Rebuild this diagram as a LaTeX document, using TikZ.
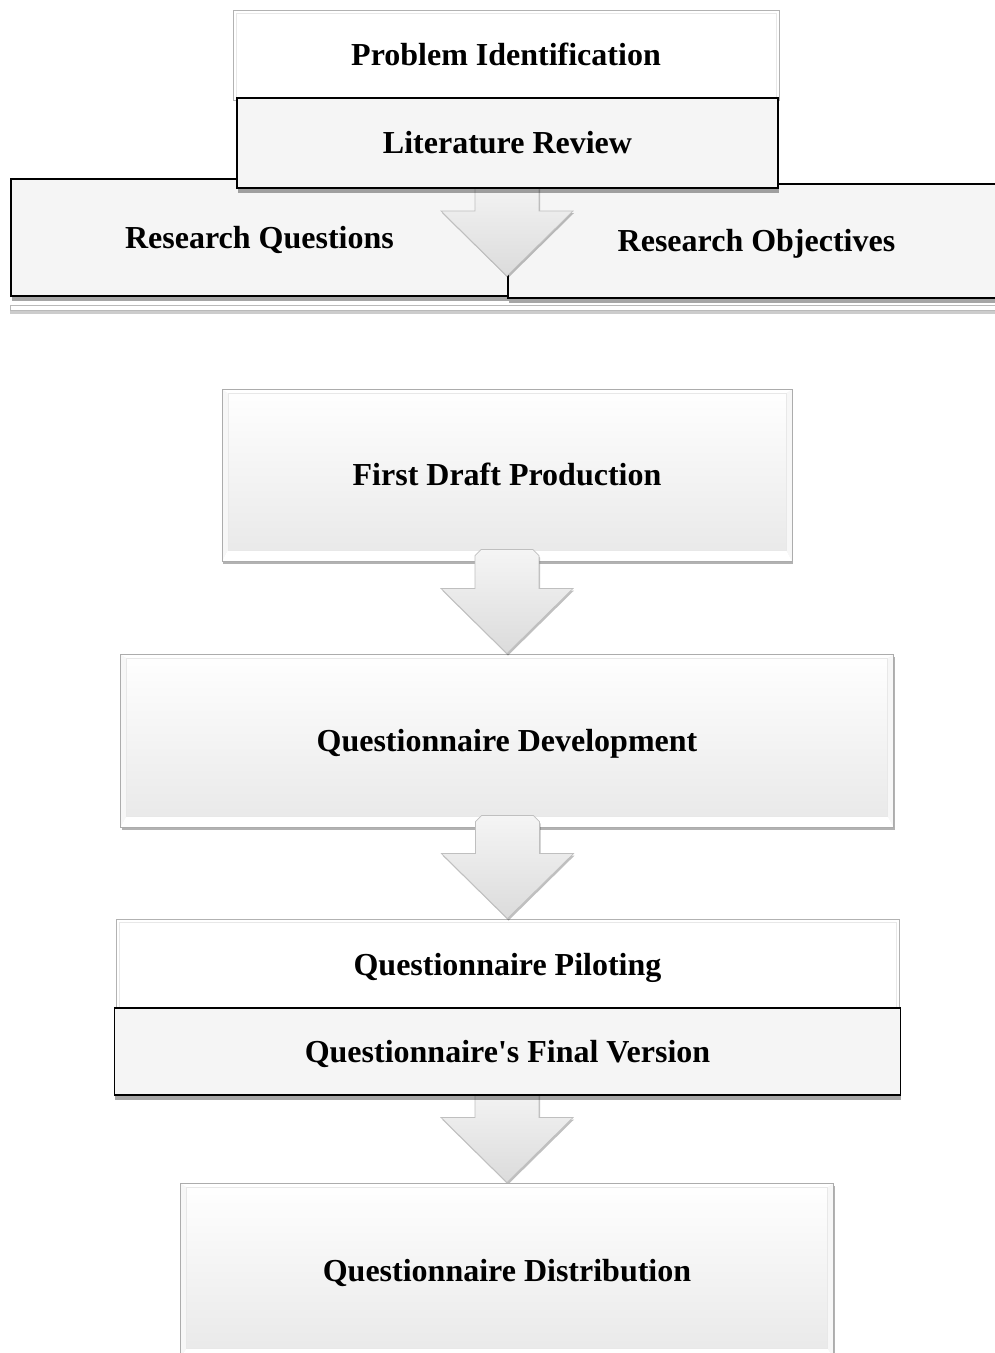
\documentclass[tikz,border=0pt]{standalone}
\usepackage{fontspec}
\setmainfont{Liberation Serif}[Ligatures=TeXOff]
\usetikzlibrary{calc,shadows}
\pgfdeclarelayer{bg}
\pgfdeclarelayer{mid}
\pgfsetlayers{bg,mid,main}

\tikzset{
  stagetext/.style={font=\bfseries\fontsize{32}{38}\selectfont,
    text height=22pt, text depth=1pt, inner sep=0pt, align=center, rectangle},
  boxsize/.style 2 args={minimum width=#1pt, minimum height=#2pt},
  % white panel with a thin grey frame
  plainbox/.style={stagetext, draw=gray!60, line width=0.9pt, fill=white,
    path picture={\draw[gray!18, line width=0.6pt]
      ([shift={(3pt,3pt)}]path picture bounding box.south west) rectangle
      ([shift={(-3pt,-3pt)}]path picture bounding box.north east);}},
  % light grey panel with black outline
  darkbox/.style={stagetext, draw=black, line width=1.1pt, fill=gray!8,
    drop shadow={shadow xshift=0.5pt, shadow yshift=-5pt, opacity=0.35, fill=black}},
  % bevelled panel with a soft vertical gradient
  bevelbox/.style={stagetext, draw=gray!65, line width=1pt,
    top color=white, middle color=gray!3, bottom color=gray!18,
    drop shadow={shadow xshift=1pt, shadow yshift=-3pt, opacity=0.3, fill=black},
    path picture={
      \fill[gray!6] (path picture bounding box.south west)
        -- ([shift={(6pt,11pt)}]path picture bounding box.south west)
        -- ([shift={(6pt,-4pt)}]path picture bounding box.north west)
        -- (path picture bounding box.north west) -- cycle;
      \fill[gray!6] (path picture bounding box.south east)
        -- ([shift={(-6pt,11pt)}]path picture bounding box.south east)
        -- ([shift={(-6pt,-4pt)}]path picture bounding box.north east)
        -- (path picture bounding box.north east) -- cycle;
      \fill[white] (path picture bounding box.south west)
        -- ([shift={(6pt,11pt)}]path picture bounding box.south west)
        -- ([shift={(-6pt,11pt)}]path picture bounding box.south east)
        -- (path picture bounding box.south east) -- cycle;
      \fill[white] (path picture bounding box.north west)
        -- ([shift={(6pt,-4pt)}]path picture bounding box.north west)
        -- ([shift={(-6pt,-4pt)}]path picture bounding box.north east)
        -- (path picture bounding box.north east) -- cycle;
      \draw[gray!18, line width=0.5pt]
        ([shift={(6pt,11pt)}]path picture bounding box.south west) rectangle
        ([shift={(-6pt,-4pt)}]path picture bounding box.north east);
    }},
  flowarrowstyle/.style={top color=gray!8, bottom color=gray!28, draw=gray!50,
    line width=0.7pt, line join=miter,
    drop shadow={shadow xshift=1pt, shadow yshift=-2pt, opacity=0.25, fill=black}}
}

% block arrow from the bottom of #1 down to the tip #2; #3 = how far the shaft reaches up into #1
\newcommand\flowarrow[3]{%
  \path[flowarrowstyle] let \p1=(#1.south), \p2=(#2) in
    (\x2-32pt,\y1+#3pt-6pt) -- (\x2-26pt,\y1+#3pt) -- (\x2+26pt,\y1+#3pt)
    -- (\x2+32pt,\y1+#3pt-6pt) -- (\x2+32pt,\y2+65pt) -- (\x2+66pt,\y2+65pt)
    -- (\x2,\y2) -- (\x2-66pt,\y2+65pt) -- (\x2-32pt,\y2+65pt) -- cycle;}

\begin{document}
\begin{tikzpicture}[x=1pt,y=-1pt]
\useasboundingbox (0,0) rectangle (995,1353);
\clip (0,0) rectangle (995,1353);

% --- top block ---
\begin{pgfonlayer}{bg}
  \begin{scope}
    \clip (0,0) rectangle (995,1353);
    \draw[gray!55, fill=white, line width=0.8pt,
      drop shadow={shadow xshift=0pt, shadow yshift=-4pt, opacity=0.2, fill=black}]
      (10,305) rectangle (1005,310);
    \node[darkbox, boxsize={497}{117}] (rq) at (259.5,237.5) {Research Questions};
    \node[darkbox, boxsize={497}{114}] (ro) at (756.5,241) {Research Objectives};
  \end{scope}
\end{pgfonlayer}

\node[plainbox, boxsize={546}{90}] (pid) at (506,55) {Problem Identification};
\node[darkbox, boxsize={541}{90}] (lit) at (507.5,143) {Literature Review};
\coordinate (t1) at (507,276);

% --- flow ---
\node[bevelbox, boxsize={570}{172}] (fdp) at (507,475) {First Draft Production};
\node[bevelbox, boxsize={773}{173}] (qdev) at (507,740.5) {Questionnaire Development};
\node[plainbox, boxsize={783}{92}] (qpil) at (507.5,965) {Questionnaire Piloting};
\node[darkbox, boxsize={786}{87}] (qfin) at (507.5,1051.5) {Questionnaire's Final Version};
\node[bevelbox, boxsize={653}{176}] (qdis) at (507,1271) {Questionnaire Distribution};

% --- arrows ---
\begin{pgfonlayer}{mid}
  \flowarrow{lit}{t1}{10}
  \flowarrow{qfin}{qdis.north}{10}
\end{pgfonlayer}
\flowarrow{fdp}{qdev.north}{12}
\flowarrow{qdev}{qpil.north}{12}
\end{tikzpicture}
\end{document}
